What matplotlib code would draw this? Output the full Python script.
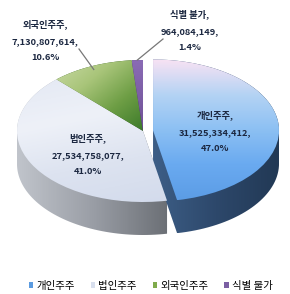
import matplotlib
matplotlib.use("Agg")
import matplotlib.pyplot as plt
import numpy as np
from matplotlib.transforms import Affine2D
from matplotlib.colors import LinearSegmentedColormap
from matplotlib.patches import Patch, Polygon

plt.rcParams['font.family'] = ['Noto Sans CJK KR', 'DejaVu Sans']

# --- data ---
categories = ['개인주주', '법인주주', '외국인주주', '식별 불가']
shares = [31525334412, 27534758077, 7130807614, 964084149]
percents = [47.0, 41.0, 10.6, 1.4]

# --- style ---
top_colors = [['#f7e2f3', '#b4d3f4', '#8cc0f3', '#6aaaf0', '#5c9de6'],
              ['#e4e9f4', '#eef1f8', '#dde3f0', '#d3dbec'],
              ['#c9daa5', '#a9c57a', '#6e9e45', '#3c7a2a'],
              ['#8a6bb5', '#6f5196']]
grad_dir = [(0.0, 1.0), (0.2, 0.8), (0.5, 0.5), (0.0, 1.0)]
side_colors = [['#3d5e86', '#2d486b', '#223955'],
               ['#c0c4cb', '#9a9ea6', '#6c7076'],
               ['#3c6a25', '#2d521c'],
               ['#503a70', '#402d5c']]
legend_colors = ['#5b9be0', '#d8dfee', '#7fab4c', '#7b5fa3']
txt = '#1b2740'

W, H = 290, 294
cx, cy = 143, H - 131
rx, ry = 126, 71
depth = 33
k = ry / rx
explode = [0.08 * rx, 0, 0, 0]

fig = plt.figure(figsize=(W / 100, H / 100), dpi=100)
ax = fig.add_axes([0, 0, 1, 1])

wedges, _ = ax.pie(shares, explode=explode, startangle=90, counterclock=False,
                   radius=rx, center=(cx, cy), colors=['none'] * 4,
                   wedgeprops=dict(linewidth=0))
ax.set_xlim(0, W)
ax.set_ylim(0, H)
ax.set_aspect('auto')
ax.axis('off')

squash = Affine2D().translate(-cx, -cy).scale(1, k).translate(cx, cy) + ax.transData


def wedge_points(w, d=0):
    th = np.radians(np.linspace(w.theta1, w.theta2, 80))
    xs = np.concatenate([[w.center[0]], w.center[0] + w.r * np.cos(th)])
    ys = np.concatenate([[w.center[1]], w.center[1] + w.r * np.sin(th)])
    ys = cy + (ys - cy) * k - d
    return np.column_stack([xs, ys])


def hull(pts):
    pts = sorted(set(map(tuple, np.round(pts, 3))))

    def half(seq):
        out = []
        for p in seq:
            while len(out) >= 2 and ((out[-1][0] - out[-2][0]) * (p[1] - out[-2][1])
                                     - (out[-1][1] - out[-2][1]) * (p[0] - out[-2][0])) <= 0:
                out.pop()
            out.append(p)
        return out
    lo = half(pts)
    hi = half(pts[::-1])
    return np.array(lo[:-1] + hi[:-1])


def grad_fill(clip, colors, pts, direction, z):
    x0, y0 = pts.min(axis=0)
    x1, y1 = pts.max(axis=0)
    xx, yy = np.meshgrid(np.linspace(0, 1, 80), np.linspace(0, 1, 80))
    t = direction[0] * xx + direction[1] * (1 - yy)
    t = (t - t.min()) / (t.max() - t.min())
    cmap = LinearSegmentedColormap.from_list('g', colors)
    im = ax.imshow(t, cmap=cmap, extent=(x0, x1, y0, y1), origin='lower',
                   aspect='auto', interpolation='bilinear', zorder=z)
    im.set_clip_path(clip)


# sides, back to front
for i, z in [(2, 1), (3, 1), (1, 2), (0, 3)]:
    w = wedges[i]
    pts = hull(np.vstack([wedge_points(w, 0), wedge_points(w, depth)]))
    poly = Polygon(pts, closed=True, facecolor='none', edgecolor='none', zorder=z)
    ax.add_patch(poly)
    grad_fill(poly, side_colors[i], pts, (1.0, 0.0), z)

# top faces
for i, w in enumerate(wedges):
    w.set_transform(squash)
    w.set_zorder(5)
    grad_fill(w, top_colors[i], wedge_points(w, 0), grad_dir[i], 5)
ax.set_xlim(0, W)
ax.set_ylim(0, H)

# labels
label_pos = [(215, 132), (88, 155), (45, 41), (190, 31)]
for cat, v, p, (lx, ly) in zip(categories, shares, percents, label_pos):
    ax.text(lx, H - ly, f"{cat},\n{v:,},\n{p:.1f}%", ha='center', va='center',
            fontsize=6.7, weight='bold', color=txt, linespacing=2.05, zorder=10)

# leader lines
for i, (sx, sy), r in [(2, (79, 49), 0.95), (3, (163, 39), 1.0)]:
    w = wedges[i]
    mid = np.radians((w.theta1 + w.theta2) / 2)
    ex = w.center[0] + r * w.r * np.cos(mid)
    ey = cy + (w.center[1] + r * w.r * np.sin(mid) - cy) * k
    ax.plot([sx, ex], [H - sy, ey], color='#777777', lw=0.9, zorder=9)

handles = [Patch(facecolor=c, edgecolor='none') for c in legend_colors]
fig.legend(handles, categories, loc='lower center', bbox_to_anchor=(0.52, -0.02),
           ncol=4, frameon=False, handlelength=0.45, handleheight=0.45,
           handletextpad=0.3, columnspacing=1.5, fontsize=7.5)

fig.savefig('out.png', dpi=100)
